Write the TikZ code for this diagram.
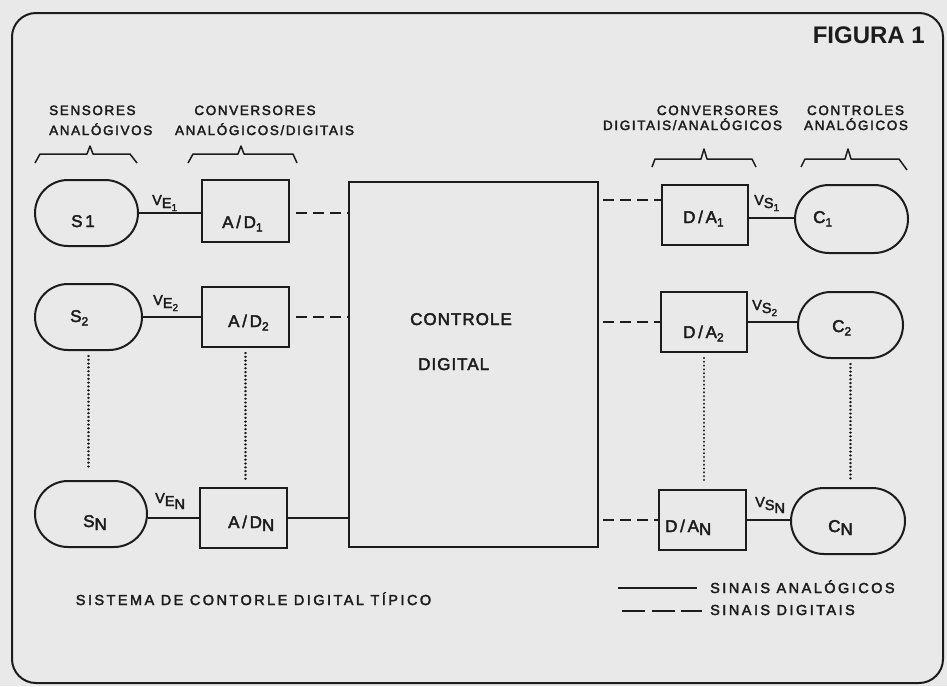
\documentclass[tikz,border=0pt]{standalone}
\usepackage{fontspec}
\setmainfont{Liberation Sans}
\newfontfamily\hdrfont{Liberation Sans}[LetterSpace=12,FakeBold=2.5]
\newfontfamily\txtfont{Liberation Sans}[LetterSpace=17,FakeBold=2.5]
\newfontfamily\bigfont{Liberation Sans}[LetterSpace=16,FakeBold=2.5]
\newfontfamily\ctlfont{Liberation Sans}[LetterSpace=6,FakeBold=2.5]
\newfontfamily\figfont{Liberation Sans}
\definecolor{bg}{RGB}{233,233,233}
\definecolor{ink}{RGB}{28,28,28}
\newcommand\lw[1]{\raisebox{-3pt}{#1}}
\newcommand\lws[1]{\raisebox{-3pt}{\fontsize{10}{11}\selectfont #1}}
\newcommand\lwb[1]{\raisebox{-3.5pt}{\fontsize{12}{13}\selectfont #1}}
\begin{document}
\begin{tikzpicture}[x=1pt,y=-1pt,
  hdr/.style={font=\hdrfont\fontsize{13.5}{15}\selectfont, text=ink, inner sep=0pt},
  txt/.style={font=\txtfont\fontsize{14.5}{16}\selectfont, text=ink, inner sep=0pt},
  big/.style={font=\bigfont\fontsize{17}{18}\selectfont, text=ink, inner sep=0pt, anchor=base west},
  ctl/.style={font=\ctlfont\fontsize{17}{19}\selectfont, text=ink, inner sep=0pt, anchor=base west},
  box/.style={draw=ink, line width=2pt, minimum width=87pt, minimum height=60pt, inner sep=0pt},
  pill/.style={draw=ink, line width=2pt, rounded corners=33pt, minimum height=66pt, inner sep=0pt},
  ana/.style={draw=ink, line width=2pt},
  dig/.style={draw=ink, line width=2pt, dash pattern=on 11pt off 6pt},
  dots/.style={draw=ink, line width=2.4pt, dash pattern=on 0.01pt off 3.8pt, line cap=round},
  brace/.style={draw=ink, line width=1.5pt, line join=round}
]
\fill[bg] (0,0) rectangle (947,686);
\useasboundingbox (0,0) rectangle (947,686);
\draw[ink, line width=2pt, rounded corners=24pt] (12,13) rectangle (943,683);

\node[font=\figfont\bfseries\fontsize{24}{28}\selectfont, text=ink, anchor=base east, inner sep=0pt] (fig) at (925,43) {FIGURA 1};

% headers
\node[hdr, anchor=base west] (h1a) at (49,115) {SENSORES};
\node[hdr, anchor=base west] (h1b) at (49,135) {ANALÓGIVOS};
\node[hdr, anchor=base] (h2a) at (255,115) {CONVERSORES};
\node[hdr, anchor=base] (h2b) at (264.5,135) {ANALÓGICOS/DIGITAIS};
\node[hdr, anchor=base] (h3a) at (717.5,115) {CONVERSORES};
\node[hdr, anchor=base] (h3b) at (692.5,130) {DIGITAIS/ANALÓGICOS};
\node[hdr, anchor=base] (h4a) at (855.5,115) {CONTROLES};
\node[hdr, anchor=base] (h4b) at (856,130) {ANALÓGICOS};

% braces
\draw[brace] (35,163) -- (40,154) -- (87,154) -- (90,146) -- (93,154) -- (130,154) -- (137,163);
\draw[brace] (188,163) -- (193,154) -- (238,154) -- (241,146) -- (244,154) -- (293,154) -- (297,163);
\draw[brace] (652,167) -- (655,159) -- (701,159) -- (704,149) -- (707,159) -- (752,159) -- (756,167);
\draw[brace] (801,167) -- (805,159) -- (845,159) -- (848,149) -- (851,159) -- (899,159) -- (907,170);

% sensors
\node[pill, minimum width=103pt] (S1) at (86.5,213) {};
\node[pill, minimum width=107pt] (S2) at (88.5,317) {};
\node[pill, minimum width=112pt] (SN) at (91,514) {};
\node[big] (S1t) at (71,227) {S1};
\node[big] (S2t) at (70,322) {S\lwb{2}};
\node[big] (SNt) at (83,527) {S\lw{N}};

% A/D
\node[box, minimum height=62pt] (AD1) at (245.5,211) {};
\node[box] (AD2) at (245.5,317) {};
\node[box] (ADN) at (243.5,518) {};
\node[big] (AD1t) at (222,228) {A/D\lwb{1}};
\node[big] (AD2t) at (228,327) {A/D\lwb{2}};
\node[big] (ADNt) at (228,528) {A/D\lw{N}};

% control
\node[draw=ink, line width=2pt, minimum width=249pt, minimum height=365pt, inner sep=0pt] (CT) at (473.5,364.5) {};
\node[ctl] (ct1) at (410,325) {CONTROLE};
\node[ctl] (ct2) at (418,370) {DIGITAL};

% D/A
\node[box, minimum width=86pt] (DA1) at (705,215) {};
\node[box, minimum width=86pt] (DA2) at (704,322) {};
\node[box] (DAN) at (702.5,520) {};
\node[big] (DA1t) at (683,223) {D/A\lwb{1}};
\node[big] (DA2t) at (683,338) {D/A\lwb{2}};
\node[big] (DANt) at (665,532) {D/A\lw{N}};

% controls
\node[pill, minimum width=113pt, minimum height=68pt, rounded corners=34pt] (C1) at (851.5,219) {};
\node[pill, minimum width=105pt] (C2) at (850.5,325) {};
\node[pill, minimum width=114pt] (CN) at (848,521) {};
\node[big] (C1t) at (813,223) {C\lwb{1}};
\node[big] (C2t) at (832,332) {C\lwb{2}};
\node[big] (CNt) at (828,532) {C\lw{N}};

% voltage labels
\node[txt, anchor=base west] (ve1) at (152,205) {V\lw{E\lws{1}}};
\node[txt, anchor=base west] (ve2) at (153,305) {V\lw{E\lws{2}}};
\node[txt, anchor=base west] (ven) at (155,503) {V\lw{E\lw{N}}};
\node[txt, anchor=base west] (vs1) at (754,205) {V\lw{S\lws{1}}};
\node[txt, anchor=base west] (vs2) at (752,310) {V\lw{S\lws{2}}};
\node[txt, anchor=base west] (vsn) at (755,507) {V\lw{S\lw{N}}};

% connectors left
\draw[ana] (S1.east) -- (S1.east -| AD1.west);
\draw[dig, shorten <=6pt] (AD1.east |- S1.east) -- (S1.east -| CT.west);
\draw[ana] (S2.east) -- (S2.east -| AD2.west);
\draw[dig, shorten <=6pt] (AD2.east) -- (AD2.east -| CT.west);
\draw[ana] (SN.east |- ADN.west) -- (ADN.west);
\draw[ana] (ADN.east) -- (ADN.east -| CT.west);

% connectors right
\coordinate (da1in) at ([yshift=15pt]DA1.west);
\coordinate (da1out) at ([yshift=-3pt]DA1.east);
\draw[dig, shorten <=4pt] (da1in -| CT.east) -- (da1in);
\draw[ana] (da1out) -- (da1out -| C1.west);
\draw[dig, shorten <=4pt] (DA2.west -| CT.east) -- (DA2.west);
\draw[ana] (DA2.east) -- (DA2.east -| C2.west);
\draw[dig, shorten <=4pt] (DAN.west -| CT.east) -- (DAN.west);
\draw[ana] (DAN.east) -- (DAN.east -| CN.west);

% dotted continuations
\draw[dots, shorten <=5pt, shorten >=10pt] (S2.south) -- (S2.south |- SN.north);
\draw[dots, shorten <=5pt, shorten >=6pt] (AD2.south) -- (AD2.south |- ADN.north);
\draw[dots, shorten <=5pt, shorten >=6pt] (DA2.south) -- (DA2.south |- DAN.north);
\draw[dots, shorten <=5pt, shorten >=6pt] (C2.south) -- (C2.south |- CN.north);

% title
\node[txt, anchor=base] (title) at (253.5,605) {SISTEMA DE CONTORLE DIGITAL TÍPICO};

% legend
\node[txt, anchor=base west] (lga) at (710,593) {SINAIS ANALÓGICOS};
\node[txt, anchor=base west] (lgd) at (710,615) {SINAIS DIGITAIS};
\coordinate (la1) at (618,588);
\coordinate (la2) at (697,588);
\coordinate (ld1) at (622,611);
\coordinate (ld2) at (702,611);
\draw[ana] (la1) -- (la2);
\draw[draw=ink, line width=2pt, dash pattern=on 23pt off 6.5pt] (ld1) -- (ld2);
\end{tikzpicture}
\end{document}
